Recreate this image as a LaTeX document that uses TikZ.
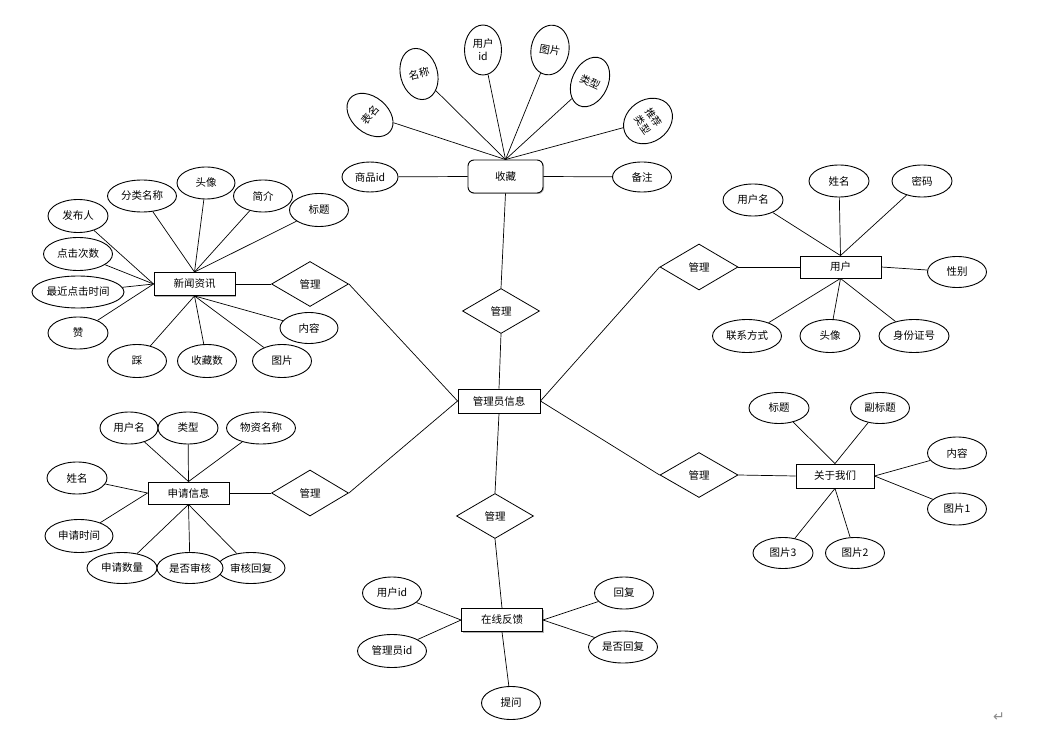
\documentclass[tikz,border=0pt]{standalone}
\usepackage{fontspec}
\newfontfamily\cjk{Noto Sans CJK SC}
\newfontfamily\dejavu{DejaVu Sans}
\usetikzlibrary{shapes.geometric,shadows}
\begin{document}
\begin{tikzpicture}[x=1pt,y=-1pt,
  every node/.style={font=\cjk\fontsize{10.5}{12}\selectfont},
  attr/.style={draw,ellipse,line width=0.9pt,inner sep=0pt,fill=white,minimum width=59pt,minimum height=32pt},
  ent/.style={draw,rectangle,line width=0.9pt,inner sep=0pt,minimum width=81pt,minimum height=23pt,fill=white,
    drop shadow={shadow xshift=1pt,shadow yshift=-1pt,fill=black!30,opacity=1}},
  rel/.style={draw,diamond,line width=0.8pt,inner sep=0pt,minimum width=77pt,minimum height=45pt,fill=white},
  ln/.style={line width=0.7pt}]
\fill[white] (0,0) rectangle (1041,743);
\useasboundingbox (0,0) rectangle (1041,743);

% ---------- 收藏 ----------
\node[ent,rounded corners=6pt,minimum width=75pt,minimum height=33pt] (sc) at (505.5,176.5) {收藏};
\node[attr,minimum width=56pt,minimum height=30pt] (spid) at (370,177) {商品id};
\node[attr,minimum width=59pt,minimum height=30pt] (bz) at (642,177) {备注};
\node[attr,minimum width=36pt,minimum height=52pt,rotate=50] (bm) at (370,115) {表名};
\node[attr,minimum width=37pt,minimum height=52pt,rotate=15] (mc) at (419,74) {名称};
\node[attr,minimum width=37pt,minimum height=50pt,align=center,font=\cjk\fontsize{10.5}{13}\selectfont] (yhid) at (483,50) {用户\\id};
\node[attr,minimum width=38pt,minimum height=50pt,rotate=-10] (tp0) at (550,50) {图片};
\node[attr,minimum width=36pt,minimum height=52pt,rotate=-25] (lx0) at (590,82) {类型};
\node[attr,minimum width=42pt,minimum height=52pt,rotate=-55,align=center,font=\cjk\fontsize{10}{13.5}\selectfont] (tjlx) at (648,121) {推荐\\类型};
\foreach \a in {bm,mc,yhid,tp0,lx0,tjlx} \draw[ln] (\a) -- (sc.north);
\draw[ln] (spid) -- (sc.west);
\draw[ln] (bz) -- (sc.east);

% ---------- center ----------
\node[rel] (r1) at (501,311) {管理};
\node[ent,minimum width=82pt,minimum height=24pt] (adm) at (499,401) {管理员信息};
\node[rel] (r2) at (495,516) {管理};
\draw[ln] (sc.south) -- (r1.north);
\draw[ln] (r1.south) -- (adm.north);
\draw[ln] (adm.south) -- (r2.north);

% ---------- 在线反馈 ----------
\node[ent] (fk) at (502,620) {在线反馈};
\node[attr,minimum width=59pt] (fkyh) at (392,593) {用户id};
\node[attr,minimum width=69pt,minimum height=33pt] (fkgl) at (392,651) {管理员id};
\node[attr] (hf) at (624,593) {回复};
\node[attr,minimum width=69pt] (sfhf) at (623,647) {是否回复};
\node[attr,minimum height=33pt] (tw) at (511,703) {提问};
\draw[ln] (r2.south) -- (fk.north);
\draw[ln] (fkyh) -- (fk.west);
\draw[ln] (fkgl) -- (fk.west);
\draw[ln] (hf) -- (fk.east);
\draw[ln] (sfhf) -- (fk.east);
\draw[ln] (fk.south) -- (tw);

% ---------- 新闻资讯 ----------
\node[ent] (news) at (194.5,284) {新闻资讯};
\node[rel] (r3) at (310,284) {管理};
\node[attr,minimum width=69pt] (flmc) at (142,196) {分类名称};
\node[attr,minimum width=58pt] (tx1) at (206,183) {头像};
\node[attr] (jj) at (263,196) {简介};
\node[attr,minimum height=33pt] (bt1) at (319,210) {标题};
\node[attr,minimum width=60pt,minimum height=33pt] (fbr) at (78,216) {发布人};
\node[attr,minimum width=69pt,minimum height=33pt] (djcs) at (78,254) {点击次数};
\node[attr,minimum width=92pt] (zjdj) at (78,292) {最近点击时间};
\node[attr,minimum width=60pt] (zan) at (78,333) {赞};
\node[attr,minimum height=33pt] (cai) at (137,361) {踩};
\node[attr,minimum height=33pt] (scs) at (207,361) {收藏数};
\node[attr,minimum height=33pt] (tp1) at (282,361) {图片};
\node[attr,minimum width=58pt,minimum height=31pt] (nr1) at (309,328) {内容};
\foreach \a in {flmc,tx1,jj,bt1} \draw[ln] (\a) -- (news.north);
\foreach \a in {fbr,djcs,zjdj,zan} \draw[ln] (\a) -- (news.west);
\foreach \a in {cai,scs,tp1,nr1} \draw[ln] (\a) -- (news.south);
\draw[ln] (news.east) -- (r3.west);
\draw[ln] (r3.east) -- (adm.west);

% ---------- 申请信息 ----------
\node[ent,minimum height=22pt] (sq) at (188.5,493) {申请信息};
\node[rel,minimum height=46pt] (r4) at (310,493) {管理};
\node[attr,minimum width=58pt] (sqyhm) at (129,428) {用户名};
\node[attr,minimum width=60pt] (sqlx) at (188,428) {类型};
\node[attr,minimum width=69pt] (wzmc) at (261,428) {物资名称};
\node[attr,minimum width=60pt] (sqxm) at (77,478) {姓名};
\node[attr,minimum width=68pt,minimum height=33pt] (sqsj) at (79,536) {申请时间};
\node[attr,minimum width=68pt,minimum height=31pt] (shhf) at (251,568) {审核回复};
\node[attr,minimum width=70pt,minimum height=31pt] (sqsl) at (122,568) {申请数量};
\node[attr,minimum width=66pt,minimum height=31pt] (sfsh) at (190,568) {是否审核};
\foreach \a in {sqyhm,sqlx,wzmc} \draw[ln] (\a) -- (sq.north);
\foreach \a in {sqxm,sqsj} \draw[ln] (\a) -- (sq.west);
\foreach \a in {sqsl,sfsh,shhf} \draw[ln] (\a) -- (sq.south);
\draw[ln] (sq.east) -- (r4.west);
\draw[ln] (r4.east) -- (adm.west);

% ---------- 用户 ----------
\node[ent,minimum height=22pt] (yh) at (840.5,267) {用户};
\node[rel,minimum width=78pt,minimum height=46pt] (r5) at (699,267) {管理};
\node[attr,minimum width=60pt] (yhm) at (753,200) {用户名};
\node[attr,minimum width=60pt] (xm) at (839,181) {姓名};
\node[attr,minimum width=60pt] (mm) at (922,181) {密码};
\node[attr,minimum height=31pt] (xb) at (957,272) {性别};
\node[attr,minimum width=69pt,minimum height=33pt] (lxfs) at (747,336) {联系方式};
\node[attr,minimum width=60pt,minimum height=33pt] (tx2) at (830,336) {头像};
\node[attr,minimum width=70pt,minimum height=33pt] (sfzh) at (914,336) {身份证号};
\foreach \a in {yhm,xm,mm} \draw[ln] (\a) -- (yh.north);
\foreach \a in {lxfs,tx2,sfzh} \draw[ln] (\a) -- (yh.south);
\draw[ln] (xb) -- (yh.east);
\draw[ln] (r5.east) -- (yh.west);
\draw[ln] (adm.east) -- (r5.west);

% ---------- 关于我们 ----------
\node[ent,minimum width=78pt,minimum height=24pt] (gy) at (835,476) {关于我们};
\node[rel,minimum width=78pt] (r6) at (699,475) {管理};
\node[attr,minimum width=60pt,minimum height=31pt] (bt2) at (779,408) {标题};
\node[attr,minimum height=31pt] (fbt) at (880,408) {副标题};
\node[attr] (nr2) at (957,453) {内容};
\node[attr] (tp2) at (957,509) {图片1};
\node[attr,minimum width=60pt,minimum height=31pt] (tp3) at (783,553) {图片3};
\node[attr,minimum height=31pt] (tp4) at (855,553) {图片2};
\foreach \a in {bt2,fbt} \draw[ln] (\a) -- (gy.north);
\foreach \a in {nr2,tp2} \draw[ln] (\a) -- (gy.east);
\foreach \a in {tp3,tp4} \draw[ln] (\a) -- (gy.south);
\draw[ln] (r6.east) -- (gy.west);
\draw[ln] (adm.east) -- (r6.west);

% return mark
\node[text=black!45,font=\dejavu\fontsize{14}{14}\selectfont] (ret) at (999,717) {↵};
\end{tikzpicture}
\end{document}
